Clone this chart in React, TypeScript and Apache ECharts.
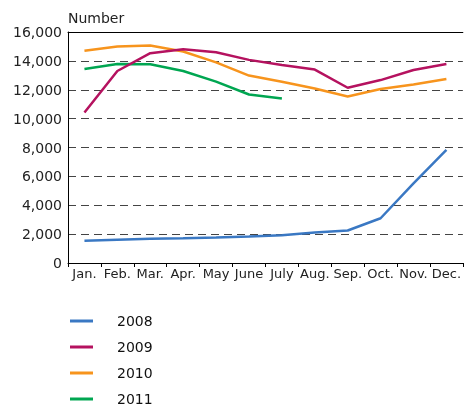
import React, { useEffect, useRef } from "react";
import * as echarts from "echarts";

const months = ["Jan.", "Feb.", "Mar.", "Apr.", "May", "June", "July", "Aug.", "Sep.", "Oct.", "Nov.", "Dec."];
const s2008 = [1540, 1610, 1680, 1720, 1770, 1840, 1930, 2110, 2250, 3100, 5520, 7840];
const s2009 = [10420, 13300, 14530, 14810, 14600, 14070, 13720, 13400, 12140, 12670, 13370, 13790];
const s2010 = [14700, 15000, 15070, 14650, 13900, 12980, 12560, 12090, 11530, 12050, 12370, 12740];
const s2011 = [13440, 13790, 13770, 13300, 12560, 11670, 11400];
const seriesNames = ["2008", "2009", "2010", "2011"];
const colors = ["#3a78c3", "#b5125f", "#f7941d", "#00a651"];

const FONT = "DejaVu Sans";

export default function App() {
  const ref = useRef<HTMLDivElement>(null);
  useEffect(() => {
    if (!ref.current) return;
    const chart = echarts.init(ref.current, null, { renderer: "svg" });
    const data = [s2008, s2009, s2010, s2011];
    chart.setOption({
      animation: false,
      grid: { left: 68, right: 0, top: 32, bottom: 144, containLabel: false },
      legend: {
        orient: "vertical",
        left: 70,
        top: 313,
        height: 110,
        padding: 0,
        icon: "rect",
        itemWidth: 23,
        itemHeight: 3,
        itemGap: 10,
        data: seriesNames,
        textStyle: { fontFamily: FONT, fontSize: 14, color: "#111", lineHeight: 16, padding: [0, 0, 0, 19] },
      },
      xAxis: [
        {
          type: "category",
          data: months,
          boundaryGap: true,
          position: "bottom",
          axisLine: { lineStyle: { color: "#000", width: 1 } },
          axisTick: { show: true, length: 4, lineStyle: { color: "#000" } },
          axisLabel: { interval: 0, fontFamily: FONT, fontSize: 13, color: "#222", margin: 4 },
        },
        {
          type: "category",
          data: months,
          position: "top",
          axisLine: { lineStyle: { color: "#000", width: 1 } },
          axisTick: { show: false },
          axisLabel: { show: false },
        },
      ],
      yAxis: {
        type: "value",
        min: 0,
        max: 16000,
        interval: 2000,
        name: "Number",
        nameLocation: "end",
        nameGap: 7,
        nameTextStyle: { fontFamily: FONT, fontSize: 14, color: "#222", align: "left", padding: [0, 0, 0, 0] },
        axisLine: { show: true, lineStyle: { color: "#000", width: 1 } },
        axisTick: { show: false },
        axisLabel: {
          fontFamily: FONT,
          fontSize: 14,
          color: "#222",
          margin: 6,
          formatter: (v: number) => v.toLocaleString("en-US"),
        },
        splitLine: {
          show: true,
          lineStyle: { color: "#444", type: [8, 5], width: 1 },
        },
      },
      series: seriesNames.map((n, i) => ({
        name: n,
        type: "line",
        data: data[i],
        symbol: "none",
        lineStyle: { color: colors[i], width: 2.5 },
        itemStyle: { color: colors[i] },
        z: 10 - i,
      })),
    });
    return () => chart.dispose();
  }, []);
  return (
    <div
      ref={ref}
      style={{ position: "fixed", left: 0, top: 0, width: 464, height: 407 }}
    />
  );
}
